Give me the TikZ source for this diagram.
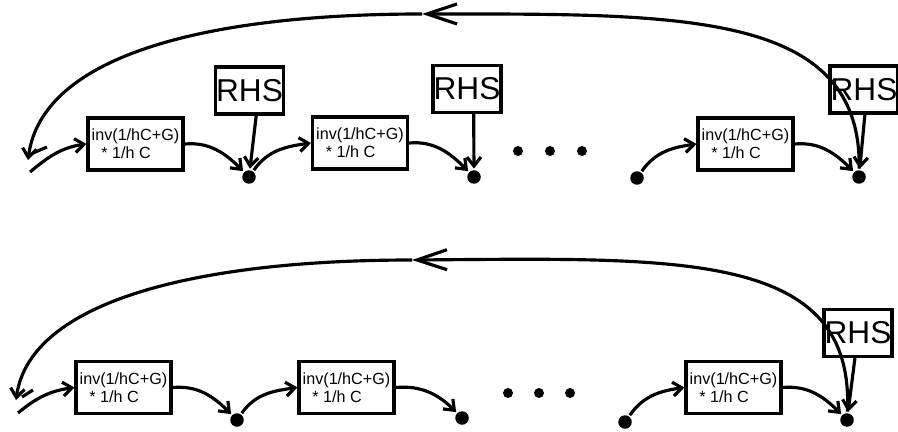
\documentclass[tikz,border=0pt]{standalone}
\usepackage{fontspec}
\setmainfont{Liberation Sans}
\usetikzlibrary{arrows.meta}

\begin{document}
\begin{tikzpicture}[x=0.02cm, y=-0.02cm, line width=1.8pt, >={Straight Barb[length=1.8mm,width=2.8mm]}] % Styles
\tikzstyle{solver}=[draw, line width=1.8pt, align=left, minimum width=1.9cm, minimum height=1.04cm, inner sep=1pt, font=\fontsize{9.2}{10.2}\selectfont]
\tikzstyle{rhs}=[draw, line width=1.8pt, minimum width=1.36cm, minimum height=0.94cm, inner sep=0pt, font=\fontsize{18}{20}\selectfont]
\tikzstyle{junction}=[circle, fill, minimum size=0.27cm, inner sep=0pt]
\tikzstyle{etc}=[circle, fill, minimum size=0.2cm, inner sep=0pt]
\tikzstyle{bigtip}=[-{Straight Barb[length=6mm,width=4mm]}]
\useasboundingbox (0,0) rectangle (898,432);
% Nodes, upper chain
\node[solver] (s1) at (135.5,144) {inv(1/hC+G)\\\hspace{0.6em}* 1/h C};
\node[solver] (s2) at (360,143) {inv(1/hC+G)\\\hspace{0.6em}* 1/h C};
\node[solver] (s3) at (745.5,144) {inv(1/hC+G)\\\hspace{0.6em}* 1/h C};
\node[rhs] (r1) at (249.5,90.5) {RHS};
\node[rhs] (r2) at (467,89) {RHS};
\node[rhs] (r3) at (864,89.5) {RHS};
\node[junction] (j1) at (249,177) {};
\node[junction] (j2) at (474,177) {};
\node[junction] (j3) at (637,178) {};
\node[junction] (j4) at (859,177) {};
\node[etc] (e1) at (518,151) {};
\node[etc] (e2) at (550,151) {};
\node[etc] (e3) at (582,151) {};
\coordinate (top1) at (422,14);
\coordinate (back1) at (28,160);
\coordinate (start1) at (30,172);
% Nodes, lower chain
\node[solver] (s4) at (123.5,387.5) {inv(1/hC+G)\\\hspace{0.6em}* 1/h C};
\node[solver] (s5) at (346.5,387.5) {inv(1/hC+G)\\\hspace{0.6em}* 1/h C};
\node[solver] (s6) at (733.5,387.5) {inv(1/hC+G)\\\hspace{0.6em}* 1/h C};
\node[rhs] (r4) at (858,333) {RHS};
\node[junction] (j5) at (237,420) {};
\node[junction] (j6) at (462,418) {};
\node[junction] (j7) at (625,422) {};
\node[junction] (j8) at (847,420) {};
\node[etc] (e4) at (508,393) {};
\node[etc] (e5) at (539,393) {};
\node[etc] (e6) at (570,393) {};
\coordinate (top2) at (412,260);
\coordinate (back2) at (16,400);
\coordinate (start2) at (18,413);
% Connections, upper chain
\draw[->] (start1) to[out=40,in=188] (s1.west);
\draw[->] (s1.east) to[out=5,in=135] (j1);
\draw[->] (j1) to[out=55,in=188] (s2.west);
\draw[->] (s2.east) to[out=5,in=135] (j2);
\draw[->] (j3) to[out=55,in=188] (s3.west);
\draw[->] (s3.east) to[out=5,in=135] (j4);
\draw[->] (r1.285) -- (j1);
\draw[->] (r2.285) -- (j2);
\draw[->] (r3.272) -- (j4);
\draw[bigtip] (j4) .. controls (862,10) and (680,14) .. (top1);
\draw[->] (top1) .. controls (210,14) and (42,54) .. (back1);
\draw (33,153) -- (47,147);
% Connections, lower chain
\draw[->] (start2) to[out=40,in=188] (s4.west);
\draw[->] (s4.east) to[out=5,in=135] (j5);
\draw[->] (j5) to[out=55,in=188] (s5.west);
\draw[->] (s5.east) to[out=5,in=135] (j6);
\draw[->] (j7) to[out=55,in=188] (s6.west);
\draw[->] (s6.east) to[out=5,in=135] (j8);
\draw[->] (r4.263) -- (j8);
\draw[bigtip] (j8) .. controls (855,250) and (680,258) .. (top2);
\draw[->] (top2) .. controls (200,260) and (30,300) .. (back2);
\draw (22,397) -- (33,390);
\end{tikzpicture}
\end{document}
